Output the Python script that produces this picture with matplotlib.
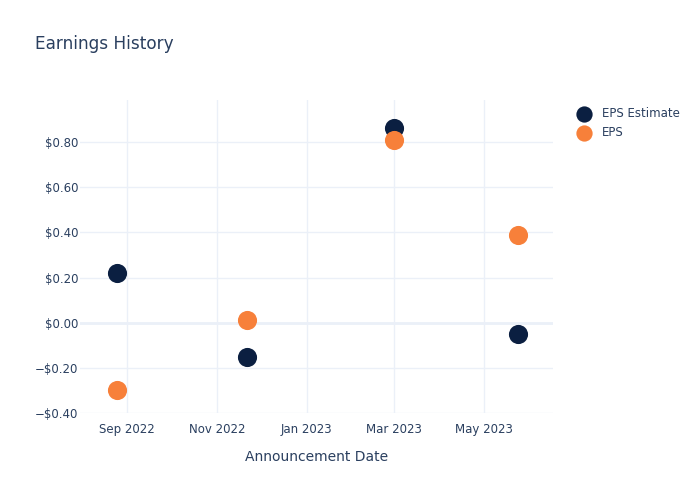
import matplotlib
matplotlib.use("Agg")
import matplotlib.pyplot as plt
import matplotlib.dates as mdates
from matplotlib.ticker import FuncFormatter
import numpy as np
import datetime as dt

# announcement dates and values
dates = ["2022-08-25", "2022-11-21", "2023-03-01", "2023-05-24"]
eps_estimate = [0.22, -0.15, 0.86, -0.05]
eps_actual = [-0.30, 0.01, 0.81, 0.39]
y_ticks = [-0.4, -0.2, 0.0, 0.2, 0.4, 0.6, 0.8]
x_ticks = ["2022-09-01", "2022-11-01", "2023-01-01", "2023-03-01", "2023-05-01"]

TEXT = "#2a3f5f"
GRID = "#ebf0f8"
NAVY = "#0b1f41"
ORANGE = "#f7803a"

x = [dt.datetime.strptime(d, "%Y-%m-%d") for d in dates]

fig = plt.figure(figsize=(7, 5), dpi=100)
ax = fig.add_axes([80 / 700, 1 - 413 / 500, 473 / 700, 313 / 500])

ax.scatter(x, eps_estimate, s=190, color=NAVY, zorder=3, label="EPS Estimate", linewidths=0)
ax.scatter(x, eps_actual, s=190, color=ORANGE, zorder=3, label="EPS", linewidths=0)

ax.set_xlim(dt.datetime(2022, 7, 31), dt.datetime(2023, 6, 17))
ax.set_ylim(-0.4, 0.986)
ax.set_yticks(y_ticks)
ax.yaxis.set_major_formatter(FuncFormatter(
    lambda v, p: ("\u2212$%.2f" % abs(v)) if v < -1e-9 else "$%.2f" % abs(v)))
ax.set_xticks([dt.datetime.strptime(d, "%Y-%m-%d") for d in x_ticks])
ax.xaxis.set_major_formatter(mdates.DateFormatter("%b %Y"))

ax.grid(True, color=GRID, linewidth=1)
ax.axhline(0, color=GRID, linewidth=2, zorder=1)
ax.set_axisbelow(True)
for s in ax.spines.values():
    s.set_visible(False)
ax.tick_params(length=0, colors=TEXT, labelsize=8.5)
ax.tick_params(axis="x", pad=7)
ax.tick_params(axis="y", pad=1)

ax.set_xlabel("Announcement Date", color=TEXT, fontsize=10, labelpad=10)
fig.text(35 / 700, 1 - 44 / 500, "Earnings History", color=TEXT, fontsize=12.2, va="center")

leg = fig.legend(loc="upper left", bbox_to_anchor=(572 / 700, 1 - 107 / 500), frameon=False,
                 fontsize=8.5, labelcolor=TEXT, handletextpad=0.55, markerscale=0.85,
                 labelspacing=0.55, borderaxespad=0, borderpad=0)

fig.savefig("out.png", dpi=100)
